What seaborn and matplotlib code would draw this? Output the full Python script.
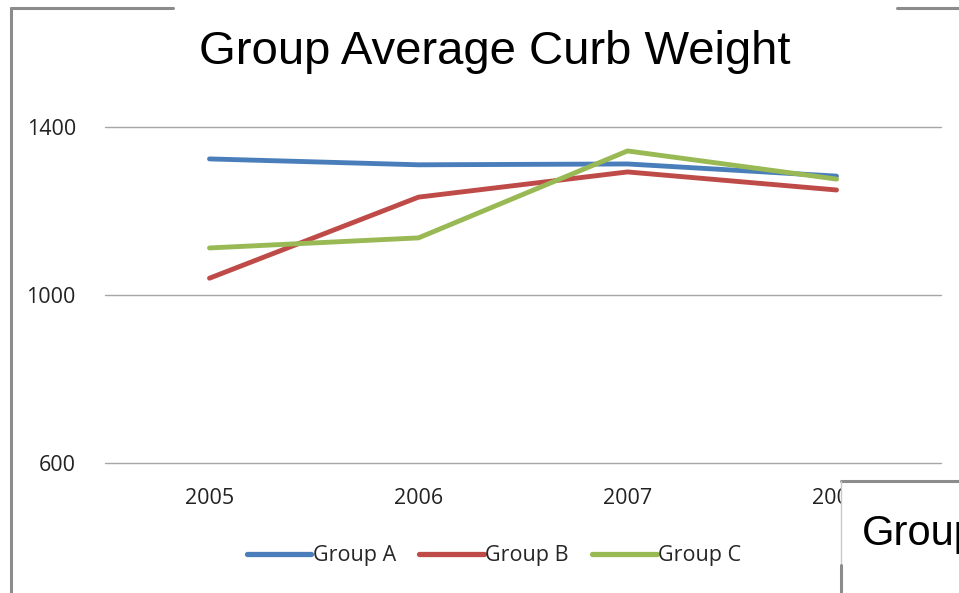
import matplotlib
matplotlib.use("Agg")
import matplotlib.pyplot as plt
from matplotlib.lines import Line2D
from matplotlib.patches import Rectangle
import seaborn as sns
import pandas as pd

# Average curb weight per group and model year
years = [2005, 2006, 2007, 2008]
group_a = [1324, 1310, 1312, 1283]
group_b = [1040, 1233, 1293, 1250]
group_c = [1112, 1136, 1343, 1276]
groups = ["Group A", "Group B", "Group C"]
colors = ["#4A7EBB", "#BE4B48", "#98B954"]
y_ticks = [600, 1000, 1400]

df = pd.DataFrame({
    "Year": years * 3,
    "Weight": group_a + group_b + group_c,
    "Group": [g for g in groups for _ in years],
})

sns.set_style("white")
plt.rcParams["font.family"] = ["Liberation Sans", "DejaVu Sans"]
tick_font = ["Open Sans", "DejaVu Sans"]

W, H = 959, 593
fig = plt.figure(figsize=(W / 100, H / 100), dpi=100)
ax = fig.add_axes([105 / W, 1 - 463 / H, 836 / W, (463 - 127) / H])

for v in y_ticks:
    ax.axhline(v, color="#A6A6A6", linewidth=1.0, zorder=0, clip_on=False)

sns.lineplot(data=df, x="Year", y="Weight", hue="Group", palette=colors,
             linewidth=3.5, ax=ax, legend=False, solid_capstyle="round")

ax.set_xlim(years[0] - 0.5, years[-1] + 0.5)
ax.set_ylim(y_ticks[0], y_ticks[-1])
ax.set_xticks(years)
ax.set_xticklabels([str(y) for y in years], fontsize=15.5, color="#222222",
                   family=tick_font)
ax.set_yticks(y_ticks)
ax.set_yticklabels([str(v) for v in y_ticks], fontsize=15.5, color="#222222",
                   family=tick_font)
ax.tick_params(axis="x", length=0, pad=18)
ax.tick_params(axis="y", length=0, pad=21)
ax.set_xlabel("")
ax.set_ylabel("")
for side in ax.spines.values():
    side.set_visible(False)

# Legend below the plot
handles = [Line2D([0], [0], color=c, lw=3.8, solid_capstyle="round") for c in colors]
fig.legend(handles, groups, loc="center", bbox_to_anchor=(494 / W, 1 - 556 / H),
           ncol=3, frameon=False, handlelength=3.0, handletextpad=0.05,
           columnspacing=1.1, prop={"family": tick_font, "size": 15.5})

# Title
fig.text(495 / W, 1 - 52 / H, "Group Average Curb Weight", ha="center", va="center",
         fontsize=34, color="black")

# Chart frame (top edge broken by the title area)
frame = dict(color="#8C8C8C", linewidth=2.2, transform=fig.transFigure)
fig.add_artist(Line2D([11 / W, 11 / W], [1 - 8 / H, 0], **frame))
fig.add_artist(Line2D([11 / W, 173 / W], [1 - 8 / H, 1 - 8 / H], **frame))
fig.add_artist(Line2D([897 / W, 1], [1 - 8 / H, 1 - 8 / H], **frame))

# Neighbouring chart panel in the lower right corner
fig.add_artist(Rectangle((841 / W, 0), 1 - 841 / W, 1 - 481 / H, transform=fig.transFigure,
                         facecolor="white", edgecolor="none", zorder=5))
fig.add_artist(Line2D([841 / W, 1], [1 - 481 / H, 1 - 481 / H], color="#8C8C8C",
                      linewidth=2.2, transform=fig.transFigure, zorder=6))
fig.add_artist(Line2D([841 / W, 841 / W], [1 - 481 / H, 1 - 565 / H], color="#C8C8C8",
                      linewidth=1.0, transform=fig.transFigure, zorder=6))
fig.add_artist(Line2D([841 / W, 841 / W], [1 - 565 / H, 0], color="#8C8C8C",
                      linewidth=2.2, transform=fig.transFigure, zorder=6))
fig.text(862 / W, 1 - 534 / H, "Group", ha="left", va="center", fontsize=30,
         color="black", zorder=7)

fig.savefig("out.png", dpi=100)
